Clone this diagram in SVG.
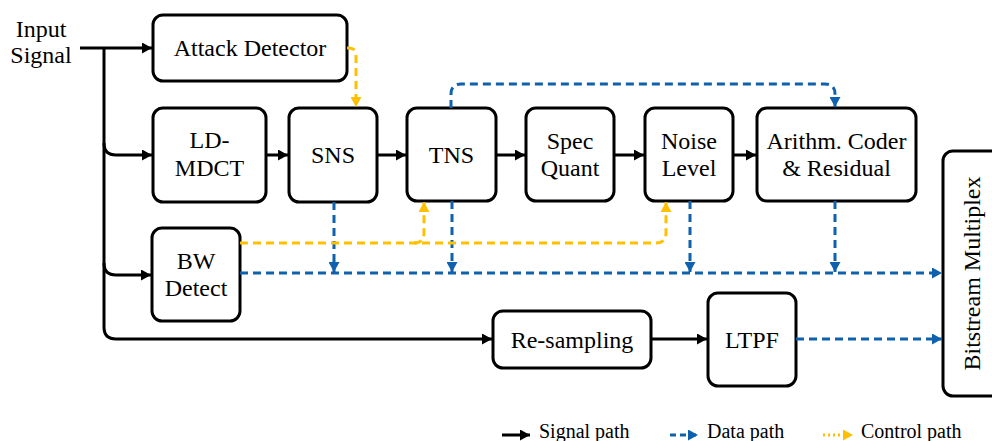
<svg xmlns="http://www.w3.org/2000/svg" width="992" height="441" viewBox="0 0 992 441">
  <defs>
    <marker id="arrSignal" markerUnits="userSpaceOnUse" markerWidth="11" markerHeight="11" refX="10" refY="5.5" orient="auto">
      <path d="M0,0 L10,5.5 L0,11 z" fill="#000"/>
    </marker>
    <marker id="arrData" markerUnits="userSpaceOnUse" markerWidth="11" markerHeight="11" refX="10" refY="5.5" orient="auto">
      <path d="M0,0 L10,5.5 L0,11 z" fill="#0F61AD"/>
    </marker>
    <marker id="arrCtrl" markerUnits="userSpaceOnUse" markerWidth="11" markerHeight="11" refX="10" refY="5.5" orient="auto">
      <path d="M0,0 L10,5.5 L0,11 z" fill="#FFC000"/>
    </marker>
  </defs>
  <style>
    .box { fill: #fff; stroke: #000; stroke-width: 3; }
    .lbl { font-size: 24px; fill: #000; text-anchor: middle; }
    .leg { font-size: 20px; fill: #000; }
    .sig { fill: none; stroke: #000; stroke-width: 3; marker-end: url(#arrSignal); }
    .data { fill: none; stroke: #0F61AD; stroke-width: 3; stroke-dasharray: 8 5; marker-end: url(#arrData); }
    .ctrl { fill: none; stroke: #FFC000; stroke-width: 3; stroke-dasharray: 8 5; marker-end: url(#arrCtrl); }
  </style>

  <g font-family="'Liberation Serif', 'DejaVu Serif', serif">
  <!-- input label -->
  <g id="input">
    <text class="lbl" x="41" y="37">Input</text>
    <text class="lbl" x="41" y="63">Signal</text>
  </g>

  <!-- processing blocks -->
  <g id="attack-detector">
    <rect class="box" x="153" y="15" width="194" height="66" rx="10"/>
    <text class="lbl" x="250" y="56">Attack Detector</text>
  </g>
  <g id="ld-mdct">
    <rect class="box" x="153" y="108" width="113" height="94" rx="10"/>
    <text class="lbl" x="209.5" y="148">LD-</text>
    <text class="lbl" x="209.5" y="176">MDCT</text>
  </g>
  <g id="sns">
    <rect class="box" x="289" y="108" width="88" height="94" rx="10"/>
    <text class="lbl" x="333" y="163">SNS</text>
  </g>
  <g id="tns">
    <rect class="box" x="407" y="108" width="89" height="93" rx="10"/>
    <text class="lbl" x="451.5" y="163">TNS</text>
  </g>
  <g id="spec-quant">
    <rect class="box" x="526" y="108" width="88" height="93" rx="10"/>
    <text class="lbl" x="570" y="149">Spec</text>
    <text class="lbl" x="570" y="176">Quant</text>
  </g>
  <g id="noise-level">
    <rect class="box" x="645" y="108" width="88" height="93" rx="10"/>
    <text class="lbl" x="689" y="149">Noise</text>
    <text class="lbl" x="689" y="176">Level</text>
  </g>
  <g id="arith-coder">
    <rect class="box" x="757" y="108" width="159" height="93" rx="10"/>
    <text class="lbl" x="836.5" y="149">Arithm. Coder</text>
    <text class="lbl" x="836.5" y="176">&amp; Residual</text>
  </g>
  <g id="bw-detect">
    <rect class="box" x="152" y="228" width="88" height="93" rx="10"/>
    <text class="lbl" x="196" y="269">BW</text>
    <text class="lbl" x="196" y="296">Detect</text>
  </g>
  <g id="resampling">
    <rect class="box" x="493" y="311" width="158" height="57" rx="10"/>
    <text class="lbl" x="572" y="347.5">Re-sampling</text>
  </g>
  <g id="ltpf">
    <rect class="box" x="708" y="293" width="88" height="93" rx="10"/>
    <text class="lbl" x="752" y="347.5">LTPF</text>
  </g>
  <g id="bitstream-mux">
    <rect class="box" x="943" y="151" width="60" height="245" rx="10"/>
    <text class="lbl" transform="translate(980,273.5) rotate(-90)">Bitstream Multiplex</text>
  </g>

  <!-- connectors -->
  <g id="connectors">
    <!-- signal path -->
    <path class="sig" d="M80,48 H152"/>
    <path class="sig" d="M104,48 V327 Q104,339 116,339 H492"/>
    <path class="sig" d="M104,143 Q104,155 116,155 H152"/>
    <path class="sig" d="M104,263 Q104,275 116,275 H151"/>
    <path class="sig" d="M266,155 H288"/>
    <path class="sig" d="M377,155 H406"/>
    <path class="sig" d="M496,155 H525"/>
    <path class="sig" d="M614,155 H644"/>
    <path class="sig" d="M733,155 H756"/>
    <path class="sig" d="M651,339 H707"/>

    <!-- data path -->
    <path class="data" d="M451,108 V94 Q451,84 461,84 H825 Q835,84 835,94 V107"/>
    <path class="data" d="M334,202 V272"/>
    <path class="data" d="M452,201 V272"/>
    <path class="data" d="M690,201 V272"/>
    <path class="data" d="M835,201 V272"/>
    <path class="data" d="M240,273 H942"/>
    <path class="data" d="M796,339 H942"/>

    <!-- control path -->
    <path class="ctrl" d="M347,48 H349 Q356,48 356,55 V107"/>
    <path class="ctrl" d="M240,243 H656 Q666,243 666,233 V202"/>
    <path class="ctrl" d="M414,243 Q424,243 424,233 V202"/>
  </g>

  <!-- legend -->
  <g id="legend">
    <path class="sig" d="M502,435 H530"/>
    <text class="leg" x="539" y="438">Signal path</text>
    <path class="data" d="M670,435 H698" style="stroke-dasharray: 6 4"/>
    <text class="leg" x="707" y="438">Data path</text>
    <path class="ctrl" d="M823,435 H853" style="stroke-dasharray: 2 3"/>
    <text class="leg" x="861" y="438">Control path</text>
  </g>
  </g>
</svg>
